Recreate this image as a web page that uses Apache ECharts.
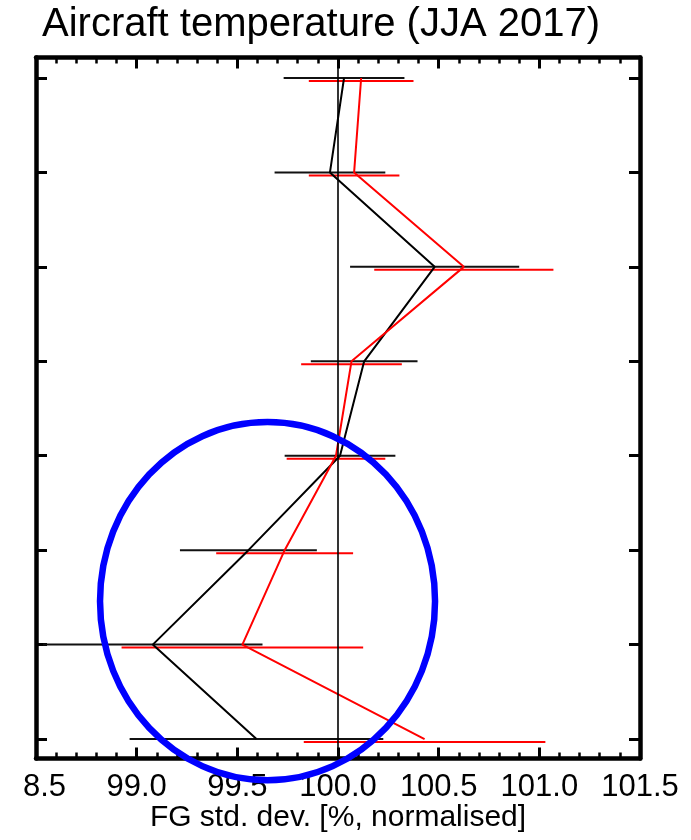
<!DOCTYPE html>
<html>
<head>
<meta charset="utf-8">
<script src="https://cdn.jsdelivr.net/npm/echarts@6/dist/echarts.min.js"></script>
<style>
html, body { margin: 0; padding: 0; background: #fff; }
#chart { width: 691px; height: 840px; }
</style>
</head>
<body>
<div id="chart"></div>
<script>
// Vertical levels, 0 at the top down to 7 at the bottom
const levels = [0, 1, 2, 3, 4, 5, 6, 7];
// Normalised FG std. dev. per level with its uncertainty (half-width)
const blackValues = [100.03, 99.96, 100.48, 100.13, 100.01, 99.555, 99.08, 99.595];
const blackErrors = [0.30, 0.275, 0.42, 0.265, 0.275, 0.34, 0.545, 0.63];
const redValues = [100.115, 100.08, 100.625, 100.067, 99.99, 99.735, 99.525, 100.43];
const redErrors = [0.26, 0.225, 0.445, 0.25, 0.245, 0.34, 0.60, 0.60];
// x-axis ticks and their labels
const xTicks = [98.5, 99.0, 99.5, 100.0, 100.5, 101.0, 101.5];
const xTickLabels = ['8.5', '99.0', '99.5', '100.0', '100.5', '101.0', '101.5'];
const referenceValue = 100.0;
// Highlighted region in data units (centre and half-extents)
const highlight = { x: 99.65, level: 5.54, rx: 0.832, ry: 1.896 };

const FONT = '"Liberation Sans", Arial, sans-serif';
const chart = echarts.init(document.getElementById('chart'), null, { renderer: 'canvas' });

function pairs(values) {
  return levels.map((l, i) => [values[i], l]);
}
function barData(values, errors) {
  return levels.map((l, i) => [values[i] - errors[i], values[i] + errors[i], l]);
}
function errorBarSeries(name, values, errors, color, offset) {
  return {
    name: name,
    type: 'custom',
    xAxisIndex: 0,
    yAxisIndex: 0,
    data: barData(values, errors),
    encode: { x: [0, 1], y: 2 },
    renderItem: function (params, api) {
      const a = api.coord([api.value(0), api.value(2)]);
      const b = api.coord([api.value(1), api.value(2)]);
      return {
        type: 'line',
        shape: { x1: a[0], y1: a[1] + offset, x2: b[0], y2: b[1] + offset },
        style: { stroke: color, lineWidth: 2 }
      };
    },
    z: 3
  };
}

function xLabel(v) {
  const i = xTicks.findIndex(t => Math.abs(t - v) < 1e-6);
  if (i < 0) return '';
  return i === 0 ? '{first|' + xTickLabels[i] + '}' : xTickLabels[i];
}

const xMin = xTicks[0], xMax = xTicks[xTicks.length - 1];
const frameLine = { show: true, onZero: false, lineStyle: { color: '#000', width: 4.5 } };
const xTickStyle = { show: true, inside: true, length: 11, lineStyle: { color: '#000', width: 3 } };
const xMinorStyle = { show: true, splitNumber: 5, length: 6, lineStyle: { color: '#000', width: 2.5 } };
const yTickStyle = { show: true, inside: true, length: 11, customValues: levels, lineStyle: { color: '#000', width: 3 } };

chart.setOption({
  animation: false,
  backgroundColor: '#fff',
  title: {
    text: 'Aircraft temperature (JJA 2017)',
    left: 42,
    top: 5,
    padding: 0,
    textStyle: { fontSize: 40, fontWeight: 'normal', color: '#000', fontFamily: FONT }
  },
  grid: { left: 36, right: 51, top: 57.5, bottom: 81.5, containLabel: false, outerBoundsMode: 'none' },
  xAxis: [
    {
      type: 'value', position: 'bottom', min: xMin, max: xMax, interval: 0.5,
      axisLine: frameLine, axisTick: xTickStyle, minorTick: xMinorStyle,
      splitLine: { show: false }, minorSplitLine: { show: false },
      axisLabel: {
        margin: 13, fontSize: 31, color: '#000', fontFamily: FONT,
        showMinLabel: true, showMaxLabel: true, formatter: xLabel,
        rich: { first: { fontSize: 31, color: '#000', fontFamily: FONT, width: 60, align: 'right' } }
      },
      name: 'FG std. dev. [%, normalised]', nameLocation: 'middle', nameGap: 44,
      nameMoveOverlap: false,
      nameTextStyle: { fontSize: 30, color: '#000', fontFamily: FONT }
    },
    {
      type: 'value', position: 'top', min: xMin, max: xMax, interval: 0.5,
      axisLine: frameLine, axisTick: xTickStyle, minorTick: xMinorStyle,
      splitLine: { show: false }, axisLabel: { show: false }
    }
  ],
  yAxis: [
    {
      type: 'value', position: 'left', inverse: true, min: -0.217, max: 7.206,
      axisLine: frameLine, axisTick: yTickStyle,
      splitLine: { show: false }, axisLabel: { show: false }
    },
    {
      type: 'value', position: 'right', inverse: true, min: -0.217, max: 7.206,
      axisLine: frameLine, axisTick: yTickStyle,
      splitLine: { show: false }, axisLabel: { show: false }
    }
  ],
  series: [
    errorBarSeries('black bars', blackValues, blackErrors, '#111', 0),
    errorBarSeries('red bars', redValues, redErrors, '#ff0000', 3),
    {
      name: 'black', type: 'line', xAxisIndex: 0, yAxisIndex: 0,
      data: pairs(blackValues), symbol: 'none',
      lineStyle: { color: '#000', width: 2 }, z: 4,
      markLine: {
        silent: true, symbol: 'none', label: { show: false },
        lineStyle: { color: '#000', width: 1.6, type: 'solid' },
        data: [{ xAxis: referenceValue }]
      }
    },
    {
      name: 'red', type: 'line', xAxisIndex: 0, yAxisIndex: 0,
      data: pairs(redValues), symbol: 'none',
      lineStyle: { color: '#ff0000', width: 2 }, z: 4
    }
  ]
});

// Blue ellipse marking the lower levels
const c = chart.convertToPixel({ xAxisIndex: 0, yAxisIndex: 0 }, [highlight.x, highlight.level]);
const e = chart.convertToPixel({ xAxisIndex: 0, yAxisIndex: 0 }, [highlight.x + highlight.rx, highlight.level + highlight.ry]);
chart.setOption({
  graphic: [{
    type: 'ellipse',
    shape: { cx: c[0], cy: c[1], rx: Math.abs(e[0] - c[0]), ry: Math.abs(e[1] - c[1]) },
    style: { fill: 'none', stroke: '#0000ff', lineWidth: 6.5 },
    z: 100
  }]
});
</script>
</body>
</html>
